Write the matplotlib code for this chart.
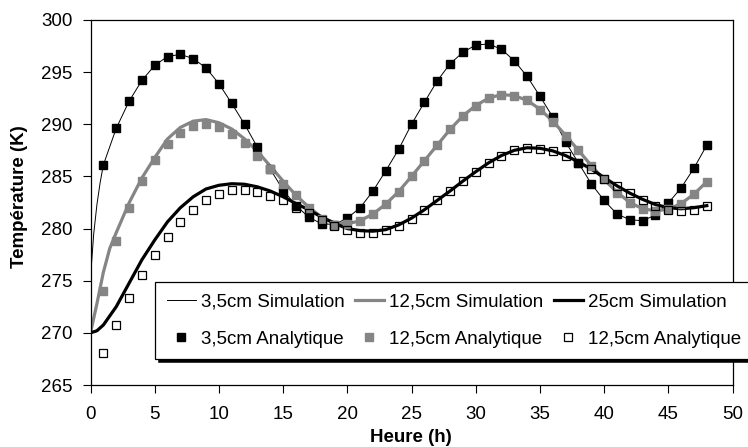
import numpy as np
import matplotlib
matplotlib.use("Agg")
import matplotlib.pyplot as plt

plt.rcParams['font.family'] = ['Liberation Sans', 'DejaVu Sans']

# simulation curves (hours, K)
t_sim35 = [0, 0.25, 0.5, 0.75] + list(range(1, 49))
sim35 = [275.3, 279.5, 282.3, 284.4,
         286.1, 289.6, 292.2, 294.2, 295.65, 296.5, 296.7, 296.3, 295.4, 293.9,
         292.0, 290.0, 287.8, 285.7, 283.7, 282.2, 281.1, 280.45, 280.4, 281.0,
         282.0, 283.6, 285.55, 287.6, 290.0, 292.1, 294.15, 295.8, 296.9, 297.6,
         297.7, 297.2, 296.1, 294.6, 292.7, 290.7, 288.3, 286.3, 284.3, 282.7,
         281.4, 280.85, 280.75, 281.3, 282.45, 283.9, 285.8, 288.0]

t_sim125 = [0, 0.5, 1, 1.5] + list(range(2, 49))
sim125 = [270.0, 272.8, 275.8, 278.1,
          279.6, 282.45, 284.85, 286.8, 288.6, 289.7, 290.3, 290.45, 290.15,
          289.55, 288.6, 287.4, 286.0, 284.55, 283.2, 282.05, 281.1, 280.55,
          280.45, 280.75, 281.4, 282.35, 283.55, 285.0, 286.5, 288.0, 289.5,
          290.8, 291.8, 292.5, 292.85, 292.75, 292.3, 291.45, 290.3, 288.95,
          287.5, 286.05, 284.7, 283.5, 282.5, 281.9, 281.7, 281.85, 282.4,
          283.3, 284.5]

t_sim25 = [0, 0.5] + list(range(1, 49))
sim25 = [270.0, 270.2,
         270.75, 272.5, 274.75, 277.0, 278.9, 280.65, 282.0, 283.05, 283.8,
         284.15, 284.3, 284.25, 284.0, 283.6, 283.05, 282.4, 281.8, 281.1,
         280.5, 280.0, 279.8, 279.75, 279.9, 280.35, 281.0, 281.8, 282.7,
         283.6, 284.55, 285.45, 286.3, 287.0, 287.5, 287.75, 287.7, 287.45,
         287.0, 286.4, 285.7, 284.9, 284.1, 283.4, 282.8, 282.3, 282.0, 281.9,
         282.0, 282.2]

# analytic points, every hour
t_ana = list(range(1, 49))
ana35 = [286.1, 289.6, 292.2, 294.2, 295.65, 296.5, 296.7, 296.3, 295.4, 293.9,
         292.0, 290.0, 287.8, 285.7, 283.6, 282.2, 281.1, 280.4, 280.3, 281.05,
         282.0, 283.6, 285.55, 287.6, 290.0, 292.1, 294.15, 295.8, 296.9, 297.6,
         297.7, 297.2, 296.1, 294.6, 292.7, 290.7, 288.3, 286.3, 284.3, 282.7,
         281.4, 280.85, 280.75, 281.3, 282.45, 283.9, 285.8, 288.0]
ana125 = [274.0, 278.8, 282.0, 284.55, 286.6, 288.1, 289.2, 289.8, 290.0, 289.7,
          289.1, 288.2, 287.0, 285.7, 284.3, 283.2, 282.0, 280.95, 280.3, 280.4,
          280.75, 281.4, 282.35, 283.55, 285.0, 286.5, 288.0, 289.55, 290.8, 291.8,
          292.5, 292.8, 292.7, 292.3, 291.4, 290.25, 288.9, 287.5, 286.0, 284.75,
          283.45, 282.5, 281.9, 281.7, 281.85, 282.4, 283.3, 284.5]
ana25 = [268.1, 270.8, 273.3, 275.55, 277.5, 279.2, 280.65, 281.8, 282.75, 283.35,
         283.7, 283.7, 283.5, 283.1, 282.7, 282.0, 281.5, 280.8, 280.25, 279.9,
         279.55, 279.55, 279.9, 280.25, 280.9, 281.75, 282.7, 283.6, 284.6, 285.45,
         286.25, 287.0, 287.55, 287.7, 287.6, 287.4, 287.0, 286.25, 285.7, 284.8,
         284.1, 283.4, 282.75, 282.2, 281.8, 281.7, 281.8, 282.2]

labels = ['3,5cm Simulation', '12,5cm Simulation', '25cm Simulation',
          '3,5cm Analytique', '12,5cm Analytique', '12,5cm Analytique']

gray = '#858585'

fig = plt.figure(figsize=(7.48, 4.47), dpi=100)
ax = fig.add_axes([90.5/748, 1-385/447, 642/748, 365/447])

l1, = ax.plot(t_sim35, sim35, color='black', lw=0.7)
l2, = ax.plot(t_sim125, sim125, color=gray, lw=2.3)
l3, = ax.plot(t_sim25, sim25, color='black', lw=2.3)
m1, = ax.plot(t_ana, ana35, ls='none', marker='s', ms=6, color='black')
m2, = ax.plot(t_ana, ana125, ls='none', marker='s', ms=6, color=gray)
m3, = ax.plot(t_ana, ana25, ls='none', marker='s', ms=6, mfc='none',
              mec='black', mew=0.9)

ax.set_xlim(0, 50)
ax.set_ylim(265, 300)
ax.set_xticks(np.arange(0, 51, 5))
ax.set_yticks(np.arange(265, 301, 5))
ax.tick_params(axis='both', labelsize=13.5, length=6, width=0.8, direction='out')
ax.tick_params(axis='y', pad=7)
ax.tick_params(axis='x', pad=9)
for s in ax.spines.values():
    s.set_linewidth(0.9)

fig.text(20/748, 1-197/447, 'Température (K)', rotation=90, ha='center',
         va='center', fontsize=13.5, fontweight='bold')
fig.text(411/748, 1-437/447, 'Heure (h)', ha='center', va='center',
         fontsize=13.5, fontweight='bold')

leg = ax.legend([l1, m1, l2, m2, l3, m3],
                [labels[0], labels[3], labels[1], labels[4], labels[2], labels[5]],
                ncol=3, loc='upper left', bbox_to_anchor=(155/748, 1-282/447),
                bbox_transform=fig.transFigure, borderaxespad=0,
                fontsize=13.5, handlelength=1.55, handletextpad=0.27,
                columnspacing=0.55, labelspacing=1.05, borderpad=0.62,
                fancybox=False, framealpha=1, edgecolor='black',
                shadow={'color': 'black', 'alpha': 1, 'linewidth': 0.4})
leg.get_frame().set_linewidth(0.9)

fig.savefig('out.png', dpi=100)
